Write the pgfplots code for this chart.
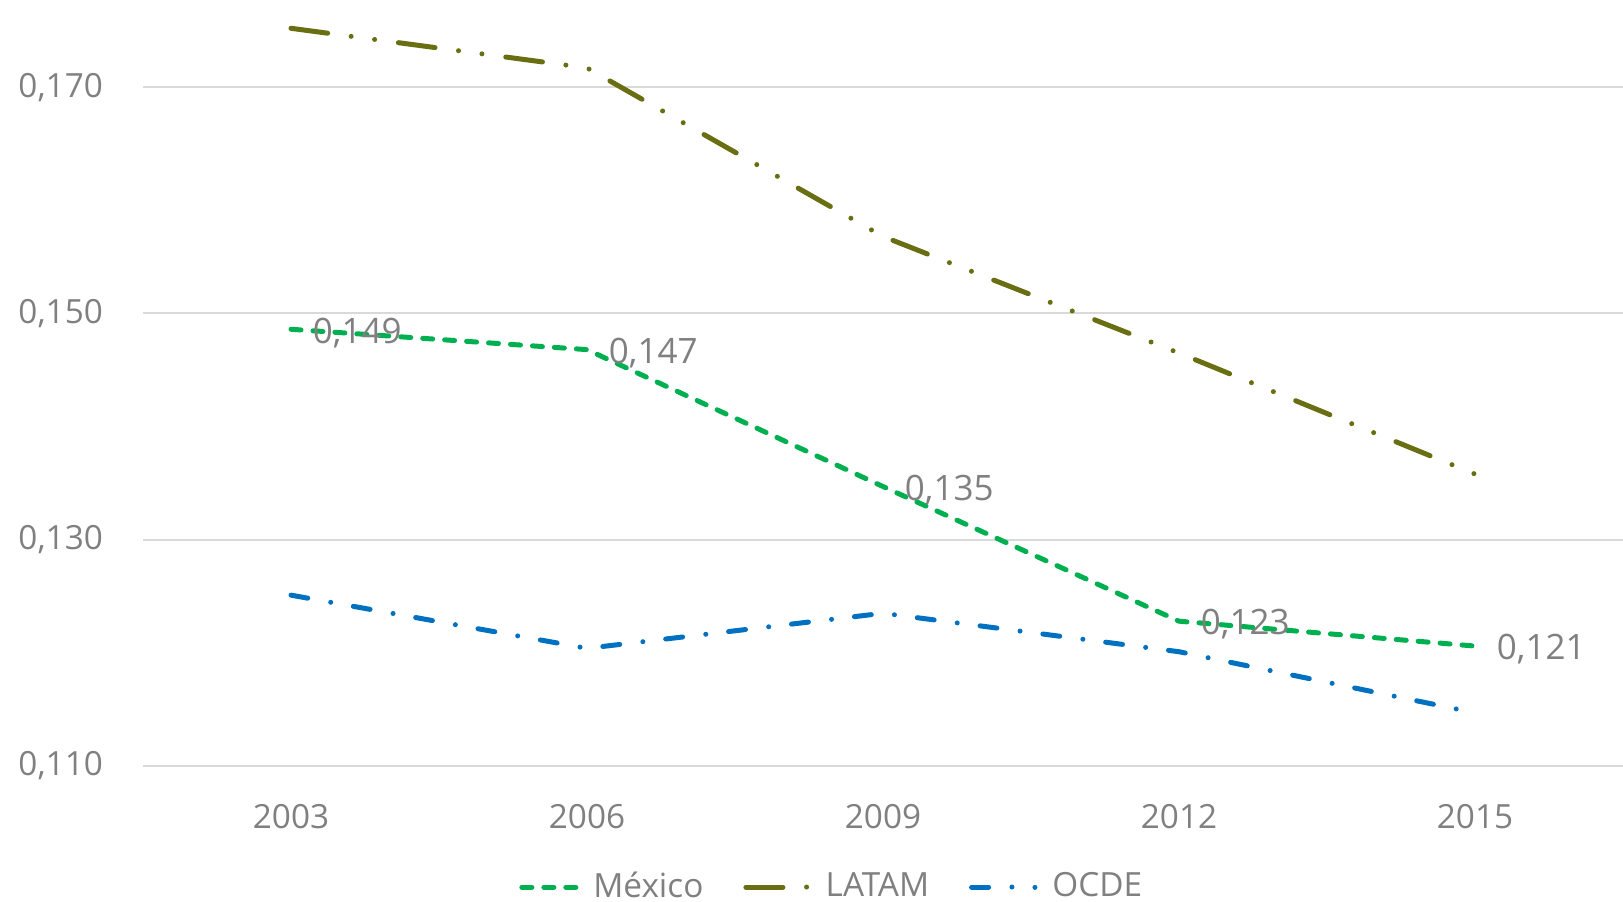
\documentclass[border=0pt]{standalone}
\usepackage{fontspec}
\setmainfont{Open Sans}
\usepackage{pgfplots}
\pgfplotsset{compat=1.18}

\definecolor{mexgreen}{HTML}{00B050}
\definecolor{latolive}{RGB}{106,110,18}
\definecolor{ocdeblue}{HTML}{0070C0}
\definecolor{txtgray}{HTML}{808080}
\definecolor{gridgray}{HTML}{D9D9D9}

\pgfplotsset{
  legmex/.style={legend image code/.code={\draw[##1, line cap=round] (0pt,0pt) -- (16.2pt,0pt);}},
  leglat/.style={legend image code/.code={\draw[##1, line cap=round] (0pt,0pt) -- (18.7pt,0pt);}},
  legocde/.style={legend image code/.code={\draw[##1, line cap=round] (0pt,0pt) -- (19pt,0pt);}},
}

\begin{document}
\begin{tikzpicture}
\useasboundingbox (0,0) rectangle (486.9pt,270.3pt);
\begin{axis}[
  at={(42.9pt,40.5pt)}, anchor=south west,
  scale only axis,
  width=444pt, height=229.8pt,
  xmin=2001.5, xmax=2016.5,
  ymin=0.110, ymax=0.1777,
  xtick={2003,2006,2009,2012,2015},
  ytick={0.110,0.130,0.150,0.170},
  axis line style={draw=none},
  major tick length=0pt,
  ymajorgrids,
  grid style={gridgray, line width=0.6pt},
  clip=false,
  font=\fontsize{10}{12}\selectfont,
  tick label style={text=txtgray},
  /pgf/number format/assume math mode=true,
  xticklabel style={/pgf/number format/1000 sep={}, yshift=-8pt},
  yticklabel style={/pgf/number format/.cd, fixed, fixed zerofill, precision=3, use comma, /tikz/.cd, xshift=-8.5pt},
  scaled y ticks=false,
  legend columns=3,
  legend style={at={(0.467,-0.158)}, anchor=center, draw=none, fill=none,
    text=txtgray, font=\fontsize{10}{12}\selectfont,
    /tikz/every odd column/.append style={column sep=2.5pt},
    /tikz/every even column/.append style={column sep=10pt}},
]
\addplot[mexgreen, line width=1.5pt, line cap=round, dash pattern=on 3pt off 3.6pt,
  nodes near coords={\pgfmathprintnumber[fixed, fixed zerofill, precision=3, use comma, assume math mode=true]{\pgfplotspointmeta}},
  every node near coord/.append style={anchor=west, xshift=2.5pt, yshift=-1pt, text=txtgray, font=\fontsize{10.5}{12}\selectfont},
  legmex]
  coordinates {(2003,0.1486) (2006,0.1468) (2009,0.1347) (2012,0.1228) (2015,0.1206)};
\addlegendentry{México}
\addplot[latolive, line width=1.5pt, line cap=round, dash pattern=on 11.1pt off 7.1pt on 0pt off 7.1pt on 0pt off 7.2pt, leglat]
  coordinates {(2003,0.1752) (2006,0.1717) (2009,0.1568) (2012,0.1465) (2015,0.1358)};
\addlegendentry{LATAM}
\addplot[ocdeblue, line width=1.5pt, line cap=round, dash pattern=on 5.1pt off 7pt on 0pt off 6.9pt, legocde]
  coordinates {(2003,0.1251) (2006,0.1204) (2009,0.1235) (2012,0.1201) (2015,0.1147)};
\addlegendentry{OCDE}
\end{axis}
\end{tikzpicture}
\end{document}
